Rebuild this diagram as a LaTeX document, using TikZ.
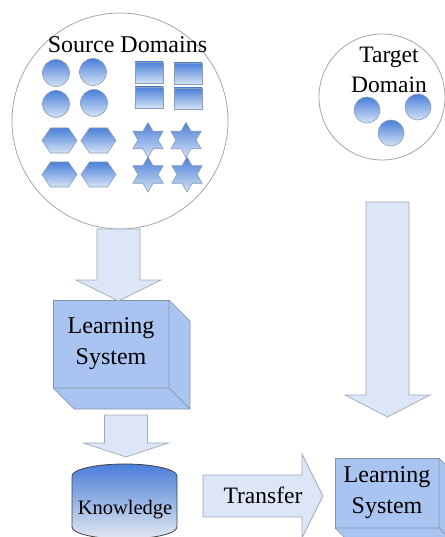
\documentclass[tikz,border=0pt]{standalone}
\usepackage{fontspec}
\setmainfont{LiberationSerif}[Extension=.ttf, UprightFont=*-Regular]
\usepackage{xcolor}
\usetikzlibrary{shapes.geometric, positioning}
\definecolor{ringline}{HTML}{A6A6A6}
\definecolor{shptop}{HTML}{4A7FD8}
\definecolor{shpbot}{HTML}{D5E3F7}
\definecolor{shpline}{HTML}{8C9DB8}
\definecolor{boxfill}{HTML}{A9C4F0}
\definecolor{boxline}{HTML}{8593A8}
\definecolor{arrfill}{HTML}{DCE6F6}
\definecolor{arrline}{HTML}{A0AABA}
\definecolor{canline}{HTML}{404040}
\definecolor{canbot}{HTML}{E3E8F0}
% x, top of shaft, start of head, tip
\newcommand{\downblock}[4]{%
  \draw[blockarrow] (#1-21.5,#2) -- (#1+21.5,#2) -- (#1+21.5,#3) -- (#1+42.5,#3)
    -- (#1,#4) -- (#1-42.5,#3) -- (#1-21.5,#3) -- cycle;}

\begin{document}
\begin{tikzpicture}[x=1pt, y=-1pt,
  domring/.style={circle, draw=ringline, line width=0.8pt, fill=white, inner sep=0pt},
  shp/.style={draw=shpline, line width=0.6pt, top color=shptop, bottom color=shpbot,
    inner sep=0pt, outer sep=0pt},
  ball/.style={shp, circle, minimum size=27pt},
  sq/.style={shp, rectangle, minimum width=28pt, minimum height=21pt},
  starshp/.style={shp, star, star points=6, star point ratio=1.73, minimum size=35pt},
  lbox/.style={rectangle, draw=boxline, fill=boxfill, line width=0.7pt, outer sep=0pt,
    inner sep=2pt, align=center, font=\fontsize{24}{31}\selectfont},
  face/.style={draw=boxline, fill=boxfill, line width=0.7pt, line join=round},
  blockarrow/.style={draw=arrline, fill=arrfill, line width=0.7pt},
  lbl/.style={font=\fontsize{24}{30}\selectfont, inner sep=0pt, align=center}]
  \useasboundingbox (0,0) rectangle (444,537);

  % source domains
  \node[domring, minimum size=216pt] (src) at (120,121) {};
  \node[lbl, anchor=base] (srclbl) at (127.5,53) {Source Domains};
  \foreach \x/\y [count=\i] in {56/73, 93/72, 56/104, 94/103}
    \node[ball] (c\i) at (\x,\y) {};
  \foreach \x/\y [count=\i] in {149/72.5, 188/73.5, 149/97.5, 188/98.5}
    \node[sq] (q\i) at (\x,\y) {};
  \foreach \x/\y in {59.5/140.5, 98.5/140.5, 59.5/174.5, 98.5/174.5}
    \draw[shp] (\x-17.5,\y) -- (\x-9,\y-12.5) -- (\x+9,\y-12.5) -- (\x+17.5,\y)
      -- (\x+9,\y+12.5) -- (\x-9,\y+12.5) -- cycle;
  \foreach \x/\y [count=\i] in {148/140, 186/140, 148/174.5, 187/174.5}
    \node[starshp] (st\i) at (\x,\y) {};

  % target domain
  \node[domring, minimum size=126pt] (tgt) at (382,97) {};
  \node[lbl, font=\fontsize{23.5}{30}\selectfont] (tgtlbl) at (389,70) {Target\\Domain};
  \foreach \x/\y [count=\i] in {367/110, 418/107, 391/133}
    \node[ball, minimum size=26pt] (t\i) at (\x,\y) {};

  % learning system (source side)
  \node[lbox, minimum width=116pt, minimum height=88pt] (ls1) at (111,344) {Learning\\System};
  \draw[face] (ls1.north east) -- ++(21,21) -- ++(0,88) -- (ls1.south east) -- cycle;
  \draw[face] (ls1.south west) -- (ls1.south east) -- ++(21,21) -- ++(-116,0) -- cycle;

  % knowledge
  \draw[draw=canline, line width=0.8pt, top color=shptop, bottom color=canbot]
    (72,476) arc[start angle=180, end angle=0, x radius=52.5pt, y radius=12pt]
    -- (177,527) arc[start angle=0, end angle=-180, x radius=52.5pt, y radius=12pt] -- cycle;
  \node[font=\fontsize{20.5}{24}\selectfont, anchor=base, inner sep=0pt] (know) at (125,514) {Knowledge};

  % learning system (target side)
  \node[lbox, minimum width=104pt, minimum height=70pt] (ls2) at (387,493) {Learning\\System};
  \draw[face] (ls2.north east) -- ++(21,21) -- ++(0,70) -- (ls2.south east) -- cycle;
  \draw[face] (ls2.south west) -- (ls2.south east) -- ++(21,21) -- ++(-104,0) -- cycle;

  % block arrows
  \downblock{118.5}{229}{280}{301}
  \downblock{126}{415}{443}{457}
  \downblock{387.5}{202}{395}{417}
  \draw[blockarrow] (203,475) -- (302,475) -- (302,454) -- (323,496) -- (302,538)
    -- (302,517) -- (203,517) -- cycle;
  \node[lbl, font=\fontsize{23.5}{30}\selectfont, anchor=base] (transfer) at (263,503) {Transfer};
\end{tikzpicture}
\end{document}
